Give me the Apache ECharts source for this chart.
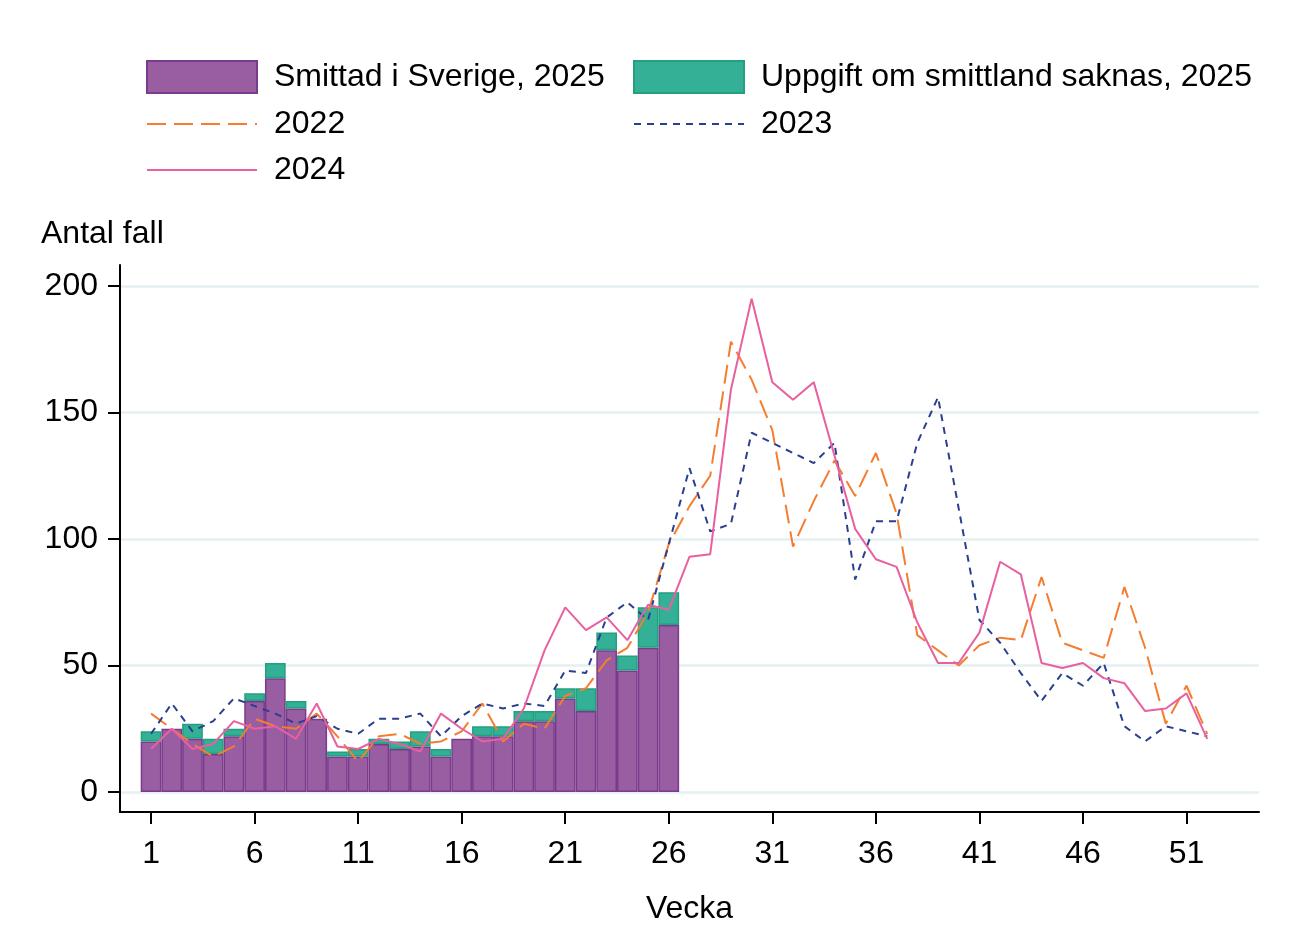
<!DOCTYPE html>
<html>
<head>
<meta charset="utf-8">
<title>Antal fall per vecka</title>
<script src="https://cdn.jsdelivr.net/npm/echarts@6.0.0/dist/echarts.min.js"></script>
<style>
  html, body { margin: 0; padding: 0; background: #fff; }
  #chart { width: 1293px; height: 941px; }
</style>
</head>
<body>
<div id="chart"></div>
<script>
// veckor 1-52, axeln går från 0 till 54 så att det blir luft på båda sidor
const weeks = [];
for (let w = 0; w <= 54; w++) {
    weeks.push(String(w));
}
const weekTicks = [1, 6, 11, 16, 21, 26, 31, 36, 41, 46, 51];

// 2025, vecka 1-26
const smittadSverige2025 = [20, 25, 21, 15, 22, 36, 45, 33, 29, 14, 14, 19, 17, 18, 14, 21, 22, 22, 28, 28, 37, 32, 56, 48, 57, 66];
const saknas2025 = [4, 0, 6, 6, 3, 3, 6, 3, 0, 2, 3, 2, 3, 6, 3, 0, 4, 4, 4, 4, 4, 9, 7, 6, 16, 13];

// tidigare år, vecka 1-52
const y2022 = [31, 25, 19, 14, 18, 29, 26, 25, 31, 22, 12, 22, 23, 19, 20, 24, 35, 20, 27, 25,
    38, 41, 52, 57, 71, 98, 113, 125, 178, 163, 143, 97, 115, 131, 117, 134, 110, 62, 56, 50,
    58, 61, 60, 85, 59, 56, 53, 81, 57, 27, 42, 23];
const y2023 = [23, 35, 24, 28, 37, 34, 31, 27, 30, 25, 23, 29, 29, 31, 22, 30, 35, 33, 35, 34,
    48, 47, 69, 75, 68, 98, 128, 103, 106, 142, 138, 134, 130, 138, 84, 107, 107, 138, 156, 112,
    68, 59, 47, 36, 47, 42, 51, 26, 20, 26, 24, 22];
const y2024 = [17, 25, 17, 19, 28, 25, 26, 21, 35, 18, 17, 21, 19, 16, 31, 25, 20, 21, 33, 56,
    73, 64, 69, 60, 74, 72, 93, 94, 159, 195, 162, 155, 162, 133, 104, 92, 89, 67, 51, 51,
    63, 91, 86, 51, 49, 51, 45, 43, 32, 33, 39, 21];

const yTicks = [0, 50, 100, 150, 200];

const FONT = '"Liberation Sans", Arial, sans-serif';
const colors = {
    purple: '#995da2',
    purpleEdge: '#7a3b8c',
    green: '#34b096',
    greenEdge: '#22a07f',
    orange: '#f47d2f',
    navy: '#2b3f8e',
    pink: '#e8609f',
    grid: '#e6eff2'
};

// lägg serien på rätt plats på kategoriaxeln (index = vecka)
function pad(values, zeroAsEmpty) {
    const out = weeks.map(() => null);
    values.forEach((v, i) => {
        out[i + 1] = (zeroAsEmpty && v === 0) ? null : v;
    });
    return out;
}

function isTickWeek(index) {
    return weekTicks.indexOf(index) !== -1;
}

function legendFor(name, left, top, isLine) {
    const lg = {
        data: [isLine ? name : { name: name, icon: 'rect' }],
        left: left,
        top: top,
        padding: 0,
        itemWidth: 110,
        itemHeight: 32,
        selectedMode: false,
        textStyle: {
            fontFamily: FONT,
            fontSize: 32,
            color: '#000',
            padding: [0, 0, 0, 12]
        }
    };
    // linjeserier ritar annars en cirkel mitt på linjen
    if (isLine) {
        lg.itemStyle = { opacity: 0 };
    }
    return lg;
}

const chart = echarts.init(document.getElementById('chart'));

const option = {
    animation: false,
    backgroundColor: '#fff',
    title: {
        text: 'Antal fall',
        left: 41,
        top: 218,
        padding: 0,
        textStyle: { fontFamily: FONT, fontSize: 32, fontWeight: 'normal', color: '#000' }
    },
    legend: [
        legendFor('Smittad i Sverige, 2025', 146, 60, false),
        legendFor('Uppgift om smittland saknas, 2025', 633, 60, false),
        legendFor('2022', 146, 108, true),
        legendFor('2023', 633, 108, true),
        legendFor('2024', 146, 154, true)
    ],
    // grid 0 = axelramen (lite utanför 0 och 200), grid 1 = själva datat
    grid: [
        { left: 120, right: 34, top: 265, bottom: 129 },
        { left: 120, right: 34, top: 286, bottom: 149 }
    ],
    xAxis: [
        {
            gridIndex: 0,
            type: 'category',
            data: weeks,
            boundaryGap: true,
            axisLine: { show: true, onZero: false, lineStyle: { color: '#000', width: 2 } },
            axisTick: {
                show: true,
                alignWithLabel: true,
                interval: (index) => isTickWeek(index),
                length: 12,
                lineStyle: { color: '#000', width: 2 }
            },
            axisLabel: {
                interval: (index) => isTickWeek(index),
                fontFamily: FONT,
                fontSize: 32,
                color: '#000',
                margin: 26
            },
            splitLine: { show: false },
            name: 'Vecka',
            nameLocation: 'middle',
            nameGap: 81,
            nameTextStyle: { fontFamily: FONT, fontSize: 32, color: '#000' }
        },
        {
            gridIndex: 1,
            type: 'category',
            data: weeks,
            boundaryGap: true,
            show: false
        }
    ],
    yAxis: [
        {
            gridIndex: 0,
            type: 'value',
            min: -8,
            max: 208,
            axisLine: { show: true, onZero: false, lineStyle: { color: '#000', width: 2 } },
            axisTick: { show: false },
            axisLabel: { show: false },
            splitLine: { show: false }
        },
        {
            gridIndex: 1,
            type: 'value',
            min: yTicks[0],
            max: yTicks[yTicks.length - 1],
            interval: 50,
            axisLine: { show: false },
            axisTick: { show: true, length: 12, lineStyle: { color: '#000', width: 2 } },
            axisLabel: { fontFamily: FONT, fontSize: 32, color: '#000', margin: 22 },
            splitLine: { show: true, lineStyle: { color: colors.grid, width: 2.5 } }
        }
    ],
    series: [
        {
            name: 'Smittad i Sverige, 2025',
            type: 'bar',
            xAxisIndex: 1,
            yAxisIndex: 1,
            stack: '2025',
            barCategoryGap: '0%',
            data: pad(smittadSverige2025, false),
            itemStyle: { color: colors.purple, borderColor: colors.purpleEdge, borderWidth: 1.5 }
        },
        {
            name: 'Uppgift om smittland saknas, 2025',
            type: 'bar',
            xAxisIndex: 1,
            yAxisIndex: 1,
            stack: '2025',
            barCategoryGap: '0%',
            data: pad(saknas2025, true),
            itemStyle: { color: colors.green, borderColor: colors.greenEdge, borderWidth: 1.5 }
        },
        {
            name: '2022',
            type: 'line',
            xAxisIndex: 1,
            yAxisIndex: 1,
            symbol: 'none',
            data: pad(y2022, false),
            lineStyle: { color: colors.orange, width: 2, type: [19, 8] },
            itemStyle: { color: colors.orange }
        },
        {
            name: '2023',
            type: 'line',
            xAxisIndex: 1,
            yAxisIndex: 1,
            symbol: 'none',
            data: pad(y2023, false),
            lineStyle: { color: colors.navy, width: 2, type: [7, 6] },
            itemStyle: { color: colors.navy }
        },
        {
            name: '2024',
            type: 'line',
            xAxisIndex: 1,
            yAxisIndex: 1,
            symbol: 'none',
            data: pad(y2024, false),
            lineStyle: { color: colors.pink, width: 2 },
            itemStyle: { color: colors.pink }
        }
    ]
};

chart.setOption(option);
</script>
</body>
</html>
